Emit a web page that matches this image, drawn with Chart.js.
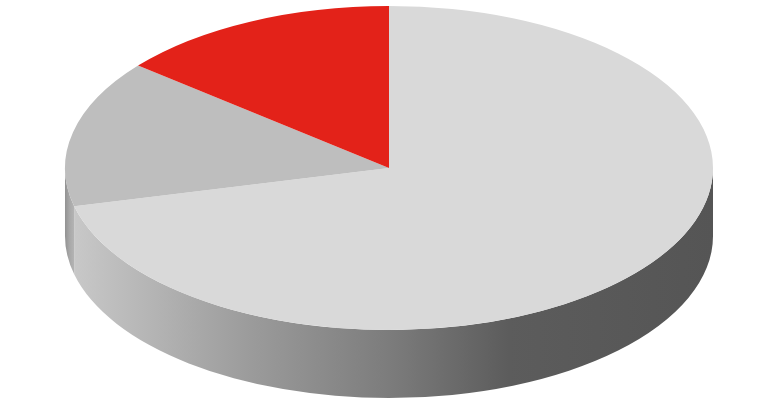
<!DOCTYPE html>
<html>
<head>
<meta charset="utf-8">
<style>
html,body{margin:0;padding:0;background:#fff;}
#wrap{width:775px;height:405px;position:relative;overflow:hidden;}
canvas{display:block;}
</style>
<script src="https://cdn.jsdelivr.net/npm/chart.js@4"></script>
</head>
<body>
<div id="wrap"><canvas id="c" width="775" height="405"></canvas></div>
<script>
const categories = ["A", "B", "C"];
const values = [71.2, 14.7, 14.1];
const topColors = ["#d9d9d9", "#bebebe", "#e32219"];
const wallStops = [
  [[0, "#c8c8c8"], [0.27, "#9c9c9c"], [0.5, "#7b7b7b"], [0.68, "#5c5c5c"], [1, "#555555"]],
  [[0, "#929292"], [0.5, "#a8a8a8"], [1, "#b4b4b4"]],
  [[0, "#aaaaaa"], [1, "#aaaaaa"]]
];
const pieRadius = 324, squash = 0.5, depth = 68, centerX = 389, centerY = 168;

const tilt = {
  id: "tilt",
  beforeDatasetsDraw(chart) {
    const ctx = chart.ctx;
    const arcs = chart.getDatasetMeta(0).data;
    const x0 = arcs[0].x, y0 = arcs[0].y;
    ctx.save();
    ctx.translate(centerX, centerY);
    ctx.scale(1, squash);
    ctx.translate(-x0, -y0);
    // Side wall: the front half of each slice's rim, dropped by the pie's depth.
    const d = depth / squash;
    arcs.forEach((arc, i) => {
      const ranges = [];
      for (const [lo, hi] of [[-2 * Math.PI, -Math.PI], [0, Math.PI], [2 * Math.PI, 3 * Math.PI]]) {
        const a = Math.max(arc.startAngle, lo), b = Math.min(arc.endAngle, hi);
        if (b > a) ranges.push([a, b]);
      }
      ranges.forEach(([a, b]) => {
        const xs = [a, b].map(t => x0 + arc.outerRadius * Math.cos(t));
        const left = Math.min(...xs, ...(a <= Math.PI && b >= Math.PI ? [x0 - arc.outerRadius] : []));
        const right = Math.max(...xs, ...(a <= 0 && b >= 0 ? [x0 + arc.outerRadius] : []));
        const g = ctx.createLinearGradient(left, 0, right, 0);
        wallStops[i].forEach(([p, c]) => g.addColorStop(p, c));
        ctx.beginPath();
        ctx.arc(x0, y0 + d, arc.outerRadius, a, b);
        ctx.arc(x0, y0, arc.outerRadius, b, a, true);
        ctx.closePath();
        ctx.fillStyle = g;
        ctx.fill();
      });
    });
  },
  afterDatasetsDraw(chart) {
    chart.ctx.restore();
  }
};

new Chart(document.getElementById("c"), {
  type: "pie",
  data: {
    labels: categories,
    datasets: [{
      data: values,
      backgroundColor: topColors,
      borderWidth: 0,
      clip: false,
      radius: pieRadius
    }]
  },
  options: {
    responsive: false,
    animation: false,
    events: [],
    plugins: { legend: { display: false }, tooltip: { enabled: false } }
  },
  plugins: [tilt]
});
</script>
</body>
</html>
